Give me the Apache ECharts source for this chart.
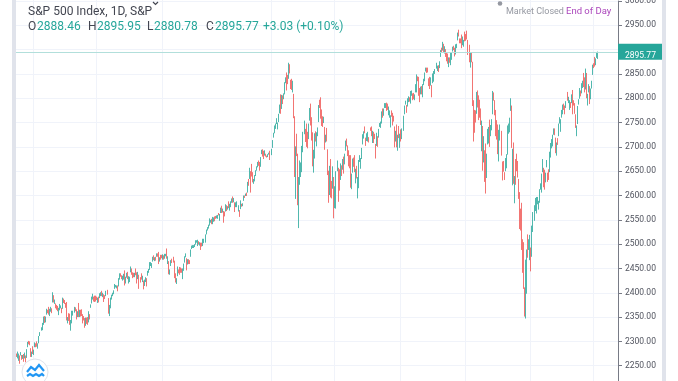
<!DOCTYPE html>
<html><head><meta charset="utf-8">
<script src="https://cdn.jsdelivr.net/npm/echarts@6/dist/echarts.min.js"></script>
<style>html,body{margin:0;padding:0;background:#fff}#c{width:678px;height:381px}</style>
</head><body><div id="c"></div>
<script>
// Daily S&P 500 candles, 9 Jan 2017 .. 8 Apr 2019 (one row per month)
const opens = [
2273,2269,2268,2271,2272,2269,2269,2272,2269,2268,2267,2288,2298,2299,2286,2274,
2286,2277,2289,2294,2296,2290,2296,2312,2322,2327,2335,2350,2343,2355,2363,2370,2355,2365,2367,
2380,2395,2381,2375,2370,2371,2364,2372,2372,2369,2370,2388,2384,2379,2380,2342,2346,2350,2329,2339,2356,2361,2368,
2362,2355,2364,2354,2356,2358,2354,2352,2341,2332,2343,2346,2342,2355,2370,2378,2388,2389,2393,
2389,2392,2386,2390,2392,2399,2401,2397,2395,2394,2393,2405,2383,2354,2368,2388,2398,2401,2409,2414,2411,2415,
2415,2432,2437,2432,2432,2434,2437,2425,2434,2443,2424,2431,2442,2450,2439,2437,2434,2443,2437,2428,2436,2429,
2431,2430,2424,2414,2425,2427,2435,2445,2448,2460,2455,2464,2475,2468,2472,2476,2479,2482,2469,2475,
2477,2478,2477,2476,2478,2478,2465,2465,2441,2455,2469,2470,2462,2428,2426,2434,2445,2450,2446,2448,2431,2450,2462,
2474,2470,2464,2469,2463,2474,2492,2495,2494,2496,2502,2506,2507,2504,2498,2500,2501,2503,2504,2510,
2521,2530,2534,2540,2547,2551,2549,2551,2553,2555,2556,2557,2562,2553,2567,2578,2568,2567,2561,2570,2577,2575,
2584,2578,2581,2588,2594,2589,2585,2580,2577,2577,2569,2572,2583,2580,2589,2600,2600,2603,2606,2628,2634,
2645,2657,2639,2626,2629,2646,2653,2661,2667,2665,2661,2685,2692,2688,2684,2684,2680,2683,2686,2690,
2684,2698,2719,2731,2743,2751,2746,2752,2771,2799,2785,2803,2804,2810,2836,2846,2846,2848,2867,2832,2833,
2816,2808,2741,2614,2690,2678,2601,2637,2646,2652,2713,2727,2723,2720,2711,2716,2757,2780,2753,
2716,2659,2681,2731,2711,2733,2753,2790,2792,2775,2754,2751,2741,2716,2715,2691,2647,2620,2667,2612,2625,
2634,2597,2584,2657,2645,2618,2639,2643,2653,2676,2670,2697,2710,2701,2692,2676,2681,2635,2651,2675,2682,
2643,2654,2628,2621,2670,2670,2679,2706,2723,2738,2719,2712,2719,2718,2736,2738,2714,2730,2724,2705,2702,2720,
2719,2742,2749,2753,2775,2765,2780,2785,2787,2784,2778,2766,2752,2769,2769,2760,2742,2723,2729,2698,2728,
2705,2733,2724,2738,2768,2789,2779,2783,2797,2799,2789,2811,2809,2804,2799,2820,2817,2839,2842,2820,2809,
2822,2803,2829,2840,2856,2857,2858,2839,2835,2827,2827,2831,2838,2853,2861,2860,2860,2862,2885,2900,2900,2908,2899,
2897,2892,2889,2868,2882,2871,2889,2896,2906,2903,2890,2906,2919,2937,2921,2921,2917,2911,2911,
2926,2924,2932,2919,2902,2878,2883,2874,2776,2771,2763,2768,2812,2803,2776,2774,2721,2738,2675,2675,2683,2640,2705,
2718,2745,2726,2738,2775,2807,2794,2773,2731,2737,2693,2719,2731,2655,2657,2634,2650,2664,2692,2736,2738,
2790,2783,2664,2691,2630,2664,2658,2658,2629,2591,2560,2548,2497,2466,2401,2363,2443,2499,2498,
2477,2491,2474,2535,2568,2580,2573,2588,2580,2585,2614,2610,2651,2657,2643,2639,2658,2644,2644,2654,2685,
2703,2706,2728,2735,2717,2693,2712,2722,2750,2743,2760,2770,2785,2781,2780,2805,2793,2787,2789,
2798,2814,2794,2790,2767,2731,2748,2787,2799,2811,2811,2823,2840,2831,2819,2848,2797,2812,2820,2809,2828,
2848,2869,2877,2874,2885,2888.46
];
const highs = [
2275,2279,2275,2271,2278,2272,2272,2274,2277,2271,2284,2299,2301,2300,2286,2279,
2290,2283,2298,2296,2300,2296,2311,2319,2329,2338,2351,2352,2351,2367,2365,2371,2367,2371,2368,
2401,2395,2386,2378,2375,2373,2369,2377,2374,2369,2390,2388,2385,2379,2381,2350,2358,2357,2344,2363,2363,2371,2370,
2366,2362,2379,2365,2365,2366,2356,2352,2348,2349,2349,2350,2362,2356,2376,2392,2398,2392,2394,
2394,2392,2390,2392,2399,2401,2404,2400,2397,2395,2404,2406,2389,2375,2390,2396,2400,2405,2418,2416,2415,2415,
2430,2440,2440,2436,2435,2439,2446,2433,2441,2443,2434,2433,2454,2450,2442,2441,2441,2450,2442,2443,2437,2432,
2440,2435,2425,2427,2432,2430,2445,2449,2463,2463,2461,2474,2477,2473,2474,2481,2481,2484,2473,2478,
2478,2479,2477,2480,2480,2491,2475,2465,2448,2467,2470,2474,2466,2440,2430,2454,2448,2453,2452,2450,2450,2460,2475,
2481,2471,2469,2469,2467,2489,2497,2498,2498,2500,2508,2508,2509,2506,2504,2503,2503,2511,2511,2520,
2530,2535,2540,2553,2550,2552,2556,2555,2557,2558,2559,2560,2564,2562,2575,2579,2573,2568,2567,2582,2580,2578,
2588,2583,2588,2594,2598,2595,2586,2586,2588,2580,2570,2590,2583,2584,2600,2600,2604,2606,2628,2634,2657,
2650,2665,2648,2634,2642,2652,2660,2669,2672,2669,2679,2694,2695,2692,2693,2686,2682,2685,2688,2692,
2696,2714,2729,2744,2748,2759,2750,2768,2787,2808,2807,2806,2810,2833,2843,2853,2848,2873,2870,2838,2840,
2836,2809,2763,2701,2727,2686,2638,2672,2668,2702,2731,2754,2737,2748,2731,2748,2780,2789,2761,
2730,2694,2728,2732,2730,2740,2786,2797,2802,2777,2763,2762,2741,2725,2739,2695,2651,2661,2675,2630,2660,
2638,2619,2650,2672,2657,2654,2666,2662,2675,2680,2686,2713,2717,2703,2693,2683,2683,2645,2676,2678,2683,
2655,2661,2638,2673,2683,2677,2698,2726,2732,2742,2719,2728,2731,2720,2740,2742,2733,2731,2727,2706,2729,2722,
2737,2749,2752,2773,2779,2779,2790,2790,2791,2789,2783,2775,2765,2775,2770,2764,2742,2733,2746,2725,2743,
2727,2736,2738,2764,2785,2795,2786,2800,2804,2802,2815,2816,2810,2811,2808,2829,2849,2845,2844,2821,2824,
2825,2829,2840,2853,2863,2863,2863,2841,2844,2843,2827,2851,2856,2860,2873,2867,2868,2876,2899,2904,2916,2912,2907,
2901,2894,2892,2884,2884,2894,2894,2906,2908,2904,2911,2912,2935,2941,2923,2923,2931,2927,2920,
2937,2932,2939,2920,2910,2894,2894,2875,2796,2776,2775,2813,2816,2806,2797,2779,2754,2743,2722,2693,2707,2686,2737,
2741,2756,2745,2757,2815,2812,2796,2776,2755,2746,2735,2746,2733,2670,2671,2648,2677,2685,2744,2748,2760,
2800,2785,2696,2709,2640,2675,2686,2671,2634,2607,2573,2585,2510,2504,2411,2468,2489,2520,2510,
2519,2493,2538,2566,2580,2595,2597,2597,2589,2613,2625,2645,2675,2657,2653,2647,2673,2647,2654,2690,2708,
2716,2725,2738,2738,2719,2709,2718,2748,2761,2757,2776,2787,2789,2785,2794,2813,2803,2796,2792,
2808,2817,2796,2790,2767,2744,2784,2798,2821,2816,2831,2836,2852,2843,2861,2852,2809,2829,2825,2820,2836,
2869,2872,2885,2882,2893,2895.95
];
const lows = [
2268,2265,2260,2254,2271,2262,2264,2258,2265,2257,2266,2288,2294,2292,2268,2268,
2274,2272,2288,2288,2289,2285,2296,2311,2322,2323,2334,2338,2339,2355,2358,2355,2352,2361,2358,
2380,2380,2377,2368,2365,2362,2354,2364,2368,2358,2367,2379,2377,2369,2343,2337,2342,2334,2322,2337,2353,2359,2362,
2345,2350,2350,2350,2351,2352,2337,2343,2328,2332,2336,2334,2339,2345,2369,2378,2386,2382,2381,
2382,2385,2379,2380,2389,2393,2393,2391,2381,2387,2393,2396,2357,2352,2368,2386,2393,2397,2408,2411,2409,2403,
2413,2427,2433,2428,2425,2427,2415,2419,2431,2428,2419,2422,2442,2437,2430,2432,2432,2436,2419,2428,2408,2421,
2427,2422,2407,2414,2422,2413,2435,2441,2447,2455,2451,2464,2467,2465,2466,2474,2474,2459,2464,2468,
2471,2468,2468,2470,2475,2470,2459,2438,2437,2455,2461,2462,2430,2421,2418,2434,2440,2437,2441,2441,2428,2445,2462,
2473,2446,2458,2459,2459,2474,2490,2492,2492,2494,2499,2503,2496,2499,2497,2488,2495,2496,2502,2503,
2520,2528,2532,2538,2544,2541,2541,2546,2547,2552,2553,2552,2559,2548,2564,2564,2565,2544,2557,2567,2568,2571,
2574,2569,2576,2585,2585,2586,2566,2576,2576,2567,2556,2572,2577,2578,2589,2595,2599,2599,2606,2620,2634,
2606,2639,2627,2624,2629,2640,2651,2658,2661,2651,2659,2685,2680,2675,2682,2680,2678,2679,2684,2673,
2683,2698,2719,2728,2737,2747,2736,2751,2769,2768,2778,2788,2798,2808,2831,2816,2829,2840,2851,2819,2817,
2812,2759,2638,2593,2681,2580,2533,2622,2638,2648,2689,2726,2710,2700,2697,2716,2754,2744,2713,
2660,2647,2676,2711,2701,2722,2751,2780,2758,2743,2741,2749,2694,2709,2711,2642,2585,2601,2596,2594,2614,
2553,2574,2573,2650,2587,2610,2632,2640,2653,2645,2664,2692,2701,2681,2660,2656,2616,2613,2647,2659,2648,
2625,2635,2594,2615,2669,2655,2675,2705,2717,2728,2702,2712,2711,2709,2733,2722,2708,2708,2716,2676,2702,2700,
2719,2741,2739,2748,2760,2764,2780,2780,2774,2776,2765,2760,2740,2762,2744,2752,2699,2711,2699,2692,2718,
2698,2711,2716,2733,2767,2787,2770,2783,2792,2793,2789,2805,2796,2798,2796,2812,2812,2835,2805,2792,2808,
2808,2802,2827,2835,2855,2852,2853,2825,2819,2826,2802,2831,2834,2850,2861,2856,2854,2862,2885,2894,2898,2895,2892,
2885,2876,2871,2864,2873,2868,2879,2896,2899,2886,2890,2903,2919,2927,2913,2913,2903,2909,2906,
2917,2918,2921,2889,2874,2863,2874,2784,2711,2729,2750,2768,2781,2755,2760,2745,2691,2651,2668,2628,2604,2636,2705,
2707,2700,2722,2734,2767,2795,2765,2722,2715,2685,2670,2713,2682,2631,2649,2632,2650,2656,2684,2727,2730,
2774,2698,2621,2624,2584,2622,2650,2637,2593,2531,2528,2488,2441,2408,2351,2347,2398,2472,2488,
2467,2444,2474,2525,2548,2568,2563,2582,2571,2585,2612,2606,2648,2617,2612,2627,2658,2628,2632,2648,2678,
2697,2701,2725,2724,2687,2682,2704,2722,2748,2731,2760,2767,2776,2767,2780,2795,2790,2776,2780,
2790,2767,2785,2768,2739,2722,2747,2787,2799,2804,2810,2821,2823,2812,2818,2800,2785,2812,2788,2798,2820,
2848,2862,2865,2868,2883,2880.78
];
const closes = [
2269,2269,2275,2271,2275,2268,2272,2264,2271,2265,2281,2298,2297,2295,2280,2279,
2280,2281,2297,2293,2293,2295,2307,2316,2328,2338,2350,2347,2351,2366,2363,2364,2367,2370,2364,
2396,2382,2383,2375,2368,2363,2365,2373,2373,2365,2385,2381,2378,2374,2344,2348,2345,2344,2342,2359,2361,2369,2363,
2359,2360,2353,2358,2355,2357,2353,2344,2329,2349,2342,2338,2355,2349,2374,2388,2388,2388,2384,
2388,2391,2388,2389,2399,2399,2397,2400,2394,2391,2402,2401,2357,2366,2382,2394,2399,2404,2415,2416,2413,2412,
2430,2439,2436,2429,2433,2434,2432,2430,2440,2437,2433,2433,2453,2437,2436,2435,2438,2439,2419,2440,2419,2423,
2429,2432,2410,2425,2428,2425,2443,2447,2459,2460,2461,2474,2474,2473,2470,2477,2477,2475,2472,2470,
2476,2478,2472,2477,2480,2475,2474,2438,2441,2466,2465,2468,2430,2426,2428,2453,2444,2438,2444,2444,2446,2457,2472,
2477,2458,2465,2466,2461,2488,2497,2498,2496,2500,2503,2506,2508,2501,2502,2497,2497,2507,2510,2519,
2529,2535,2537,2552,2549,2544,2551,2555,2550,2553,2558,2560,2561,2562,2575,2565,2569,2557,2560,2581,2572,2575,
2580,2580,2588,2591,2590,2594,2585,2582,2585,2579,2564,2585,2579,2582,2599,2597,2603,2601,2627,2626,2648,
2642,2639,2630,2629,2636,2652,2660,2664,2662,2652,2676,2690,2681,2679,2685,2683,2680,2683,2688,2674,
2695,2713,2724,2743,2748,2751,2748,2768,2786,2777,2803,2798,2810,2833,2839,2838,2839,2873,2854,2822,2824,
2821,2762,2649,2695,2682,2581,2620,2656,2662,2698,2731,2732,2716,2701,2704,2747,2780,2744,2714,
2678,2691,2720,2728,2727,2739,2786,2783,2765,2750,2748,2752,2712,2717,2711,2643,2588,2658,2612,2605,2641,
2582,2614,2644,2663,2604,2614,2656,2642,2664,2656,2678,2707,2708,2693,2670,2670,2634,2639,2667,2670,2648,
2655,2635,2630,2663,2673,2672,2697,2723,2728,2730,2711,2722,2720,2713,2733,2725,2733,2727,2721,2690,2724,2705,
2735,2747,2749,2772,2771,2779,2782,2787,2776,2782,2780,2774,2762,2767,2750,2755,2717,2723,2700,2716,2718,
2727,2713,2736,2760,2784,2793,2775,2798,2801,2798,2809,2815,2804,2802,2806,2820,2846,2837,2819,2802,2816,
2813,2828,2840,2851,2858,2857,2853,2833,2821,2840,2819,2840,2850,2858,2863,2862,2857,2875,2897,2898,2914,2901,2902,
2896,2888,2878,2872,2878,2888,2889,2904,2905,2888,2904,2908,2931,2930,2919,2916,2906,2915,2914,
2924,2923,2926,2901,2885,2884,2881,2785,2728,2767,2750,2810,2809,2768,2768,2756,2741,2656,2706,2659,2641,2682,2712,
2740,2723,2738,2756,2814,2806,2781,2726,2722,2702,2730,2736,2690,2642,2650,2633,2674,2682,2744,2738,2760,
2790,2700,2696,2633,2637,2636,2651,2650,2600,2546,2546,2507,2467,2417,2351,2468,2489,2486,2507,
2510,2448,2532,2550,2575,2585,2597,2596,2583,2610,2617,2636,2671,2633,2639,2643,2665,2644,2641,2682,2704,
2707,2725,2738,2732,2706,2708,2710,2744,2754,2746,2776,2780,2784,2775,2793,2796,2794,2793,2784,
2804,2792,2789,2771,2749,2743,2784,2792,2811,2808,2822,2833,2832,2824,2855,2801,2798,2818,2805,2815,2834,
2867,2867,2873,2879,2892.74,2895.77
];
// first trading day (candle index) of the months carrying a time-scale grid line
const gridDays = [16, 77, 141, 247, 308, 372, 435, 498, 559];
const titleText = 'S&P 500 Index, 1D, S&P';
const statusText = 'Market Closed';
const sessionText = 'End of Day';

const n = Math.min(opens.length, highs.length, lows.length, closes.length);
const candles = [];
for (let i = 0; i < n; i++) candles.push([i, opens[i], closes[i], lows[i], highs[i]]);
const last = n - 1;
const chg = closes[last] - closes[last - 1];
const pct = chg / closes[last - 1] * 100;
const up = '#26a69a', down = '#ef5350';
const upC = 'rgba(38,166,154,0.8)', downC = 'rgba(239,83,80,0.8)';
const F = 'Roboto, sans-serif';

const chart = echarts.init(document.getElementById('c'), null, {renderer: 'canvas'});
chart.setOption({
  animation: false,
  backgroundColor: '#ffffff',
  grid: {left: 16, right: 60, top: 1, height: 389, outerBoundsMode: 'none', containLabel: false},
  xAxis: {type: 'value', min: -0.5, max: 583.2, show: false, splitLine: {show: false}},
  yAxis: {
    type: 'value', position: 'right', min: 2200, max: 3000, interval: 50,
    axisLine: {show: true, onZero: false, lineStyle: {color: '#787b86', width: 1}},
    axisTick: {show: true, length: 4, lineStyle: {color: '#787b86'}},
    axisLabel: {fontSize: 8.5, color: '#50535e', margin: 7, fontFamily: F, formatter: v => v.toFixed(2)},
    splitLine: {show: true, lineStyle: {color: '#f0f3fa', width: 1}}
  },
  series: [
    {
      type: 'candlestick', data: candles, z: 3,
      encode: {x: 0, y: [1, 2, 3, 4]},
      barWidth: 1,
      itemStyle: {color: upC, color0: downC, borderColor: upC, borderColor0: downC, borderWidth: 1}
    }
  ]
});

const tagY = chart.convertToPixel({yAxisIndex: 0}, closes[last]);
const txt = (x, y, s, color, size, extra, z) => ({type: 'text', x, y, z: z || 50,
  style: Object.assign({text: s, fill: color, font: size + 'px ' + F, textBaseline: 'alphabetic'}, extra || {})});
const dark = '#434651';
const vLines = gridDays.map(d => {
  const x = Math.round(chart.convertToPixel({xAxisIndex: 0}, d)) + 0.5;
  return {type: 'line', shape: {x1: x, y1: 0, x2: x, y2: 381}, style: {stroke: '#f0f3fa', lineWidth: 1}, z: 0, silent: true};
});
chart.setOption({
  graphic: vLines.concat([
    {type: 'line', shape: {x1: 16, y1: Math.round(tagY) + 0.5, x2: 618, y2: Math.round(tagY) + 0.5}, style: {stroke: '#b2dfdb', lineWidth: 1}, z: 45, silent: true},
    {type: 'rect', shape: {x: 12, y: 0, width: 4, height: 381}, style: {fill: '#e0e3eb'}, z: 40},
    {type: 'rect', shape: {x: 662, y: 0, width: 4, height: 381}, style: {fill: '#e0e3eb'}, z: 40},
    txt(28, 6, titleText, dark, 12),
    {type: 'polyline', shape: {points: [[153, 2], [155.5, 4.5], [158, 2]]}, style: {stroke: dark, lineWidth: 1.2, fill: null}, z: 50},
    txt(28, 21, 'O', dark, 12), txt(37, 21, opens[last].toFixed(2), up, 12),
    txt(88, 21, 'H', dark, 12), txt(97, 21, highs[last].toFixed(2), up, 12),
    txt(147, 21, 'L', dark, 12), txt(154, 21, lows[last].toFixed(2), up, 12),
    txt(206, 21, 'C', dark, 12), txt(215, 21, closes[last].toFixed(2), up, 12),
    txt(263, 21, (chg >= 0 ? '+' : '') + chg.toFixed(2) + ' (' + (pct >= 0 ? '+' : '') + pct.toFixed(2) + '%)', up, 12),
    {type: 'circle', shape: {cx: 500, cy: 3.5, r: 2.3}, style: {fill: '#9598a1'}, z: 50},
    txt(506, 7, statusText, '#9598a1', 9),
    txt(566, 7, sessionText, '#ab47bc', 9.5),
    {type: 'rect', shape: {x: 618, y: tagY - 8, width: 44, height: 16}, style: {fill: up}, z: 60},
    txt(625, tagY, closes[last].toFixed(2), '#ffffff', 8.5, {textBaseline: 'middle'}, 61),
    {type: 'circle', shape: {cx: 35, cy: 372, r: 13}, style: {fill: '#ffffff', stroke: '#e0e3eb', lineWidth: 1}, z: 55},
    {type: 'polyline', shape: {points: [[27, 372], [31, 367], [35, 370], [39, 365], [44, 371]]}, style: {stroke: '#2196f3', lineWidth: 2.2, fill: null}, z: 56},
    {type: 'polyline', shape: {points: [[27, 376], [30, 374], [33, 376], [36, 374], [39, 376], [42, 374], [44, 376]]}, style: {stroke: '#2196f3', lineWidth: 2.2, fill: null}, z: 56}
  ])
});
if (opens.length !== closes.length || highs.length !== closes.length || lows.length !== closes.length) {
  throw new Error('length mismatch ' + [opens.length, highs.length, lows.length, closes.length].join(','));
}
</script>
</body></html>
